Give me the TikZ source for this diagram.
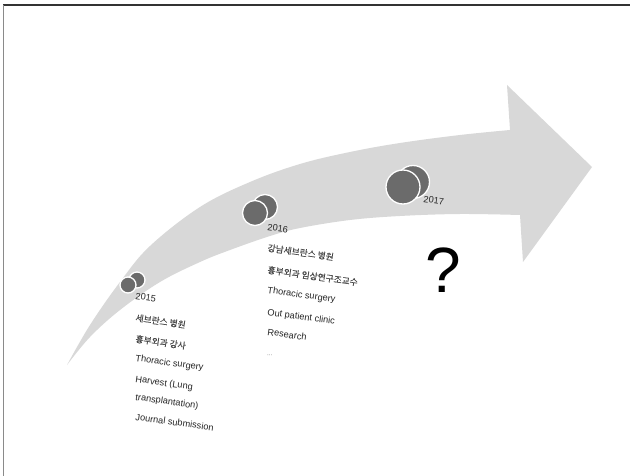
\documentclass[tikz,border=0pt]{standalone}
\usepackage{fontspec}
\setmainfont{Liberation Sans}
\newfontfamily\kr[FakeBold=0.15]{Noto Sans CJK KR}
\definecolor{band}{HTML}{D8D8D8}
\definecolor{dot}{HTML}{6B6B6B}
\definecolor{txt}{HTML}{262626}
\definecolor{frameA}{HTML}{333333}
\definecolor{frameB}{HTML}{8A8A8A}
\begin{document}
\begin{tikzpicture}[x=1pt,y=-1pt,
  lbl/.style={anchor=base west, rotate=-8, font=\fontsize{9.2}{10}\selectfont, text=txt, inner sep=0pt},
  krl/.style={lbl, font=\kr\fontsize{8.8}{10}\selectfont, text=txt!85!white},
  dotc/.style={fill=dot, draw=white, line width=1.3pt}]
\useasboundingbox (0,0) rectangle (630,476);
\fill[white] (0,0) rectangle (630,476);
% frame edges
\draw[frameA, line width=1.2pt] (3,5) -- (630,5);
\draw[frameB, line width=1.5pt] (3.5,5) -- (3.5,476);
% curved arrow
\fill[band] plot[smooth, tension=0.6] coordinates {(67,365) (90,325) (120,282) (150,246) (200,207) (250,182) (300,164) (350,152) (400,143) (460,135) (510,130)}
  -- (507,85) -- (592,167) -- (523,262) -- (520,215)
  -- plot[smooth, tension=0.6] coordinates {(520,215) (460,214) (400,216) (350,220) (300,228) (270,236) (230,250) (200,262) (160,282) (120,310) (90,337) (67,365)} -- cycle;
% circles
\draw[dotc] (137,280) circle (8);
\draw[dotc] (128,285) circle (8);
\draw[dotc] (265,207) circle (12.5);
\draw[dotc] (255,213) circle (12.5);
\draw[dotc] (413,182) circle (16.5);
\draw[dotc] (403,187) circle (17);
% 2015
\node[lbl] (y15) at (135,299) {2015};
\node[krl] (a1) at (135,321) {세브란스 병원};
\node[krl] (a2) at (135,342) {흉부외과 강사};
\node[lbl] (a3) at (135,361) {Thoracic surgery};
\node[lbl] (a4) at (135,382) {Harvest (Lung};
\node[lbl] (a5) at (135,400) {transplantation)};
\node[lbl] (a6) at (135,420) {Journal submission};
% 2016
\node[lbl] (y16) at (267,230) {2016};
\node[krl] (b1) at (267,251) {강남세브란스 병원};
\node[krl] (b2) at (267,273) {흉부외과 임상연구조교수};
\node[lbl] (b3) at (267,293) {Thoracic surgery};
\node[lbl] (b4) at (267,315) {Out patient clinic};
\node[lbl] (b5) at (267,335) {Research};
\node[lbl, font=\fontsize{6}{6}\selectfont, text=gray!80!black] (b6) at (267,355) {...};
% 2017
\node[lbl] (y17) at (423,202) {2017};
\node[anchor=base west, inner sep=0pt, font=\fontsize{64}{70}\selectfont] (q) at (425,292) {?};
\end{tikzpicture}
\end{document}
